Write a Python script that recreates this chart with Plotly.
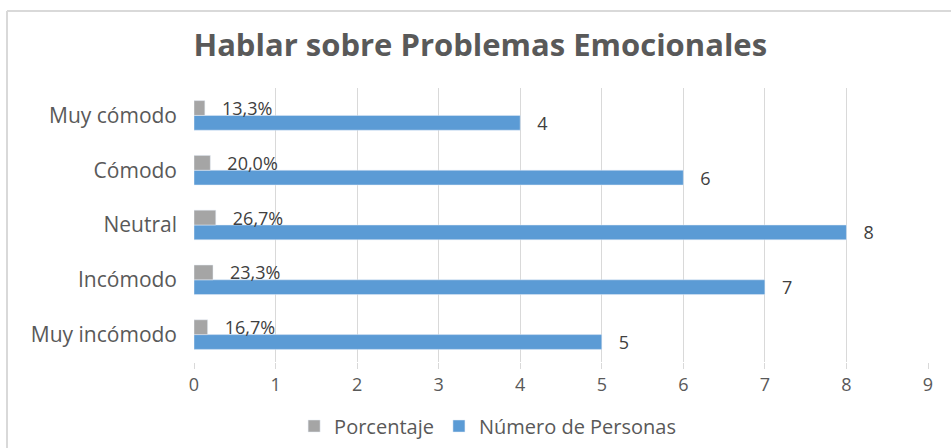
import plotly.graph_objects as go

categories = ["Muy incómodo", "Incómodo", "Neutral", "Cómodo", "Muy cómodo"]
personas = [5, 7, 8, 6, 4]
porcentaje = [0.167, 0.233, 0.267, 0.200, 0.133]
porcentaje_labels = ["16,7%", "23,3%", "26,7%", "20,0%", "13,3%"]
x_ticks = [0, 1, 2, 3, 4, 5, 6, 7, 8, 9]

W, H = 951, 448
ml, mr, mt, mb = 194, 23, 88, 86
pad = "\u00a0\u00a0\u00a0"

fig = go.Figure()
fig.add_trace(go.Bar(
    y=categories, x=personas, orientation="h", name="Número de Personas",
    marker_color="#5b9bd5", text=[pad + str(v) for v in personas],
    textposition="outside", cliponaxis=False, constraintext="none",
    textfont=dict(color="#404040", size=18), legendrank=2,
))
fig.add_trace(go.Bar(
    y=categories, x=porcentaje, orientation="h", name="Porcentaje",
    marker_color="#a5a5a5", text=[pad + t for t in porcentaje_labels],
    textposition="outside", cliponaxis=False, constraintext="none",
    textfont=dict(color="#404040", size=18), legendrank=1,
))

pw = W - ml - mr
ph = H - mt - mb
fig.update_layout(
    width=W, height=H,
    margin=dict(l=ml, r=mr, t=mt, b=mb, autoexpand=False),
    paper_bgcolor="white", plot_bgcolor="white",
    barmode="group", bargap=0.46, bargroupgap=0,
    font=dict(family="Open Sans", color="#595959", size=16),
    title=dict(text="<b>Hablar sobre Problemas Emocionales</b>", x=0.505, xanchor="center",
               y=1 - 45 / H, yanchor="middle", font=dict(size=31, color="#595959")),
    xaxis=dict(range=[0, 9], tickvals=x_ticks, showgrid=True, gridcolor="#d9d9d9",
               gridwidth=1, zeroline=False, showline=False, ticks="outside", ticklen=6,
               tickcolor="#d9d9d9", tickfont=dict(size=18, color="#595959"),
               automargin=False),
    yaxis=dict(categoryorder="array", categoryarray=categories, showgrid=False,
               ticks="", tickfont=dict(size=21, color="#595959"), ticklabelstandoff=16,
               showline=False, automargin=False),
    legend=dict(orientation="h", x=0.4, xanchor="center", y=-(426 - mt - ph) / ph,
                yanchor="middle", font=dict(size=20, color="#595959"),
                traceorder="normal", itemwidth=30),
    showlegend=True,
)
# chart area border (top and left edges visible)
fig.add_shape(type="line", xref="paper", yref="paper",
              x0=(7 - ml) / pw, x1=(W - ml) / pw,
              y0=(H - 11 - mb) / ph, y1=(H - 11 - mb) / ph,
              line=dict(color="#d9d9d9", width=2), layer="below")
fig.add_shape(type="line", xref="paper", yref="paper",
              x0=(7 - ml) / pw, x1=(7 - ml) / pw,
              y0=(H - 11 - mb) / ph, y1=(0 - mb) / ph,
              line=dict(color="#d9d9d9", width=2), layer="below")

fig.write_html("out.html", config={"displayModeBar": False},
               post_script="document.body.style.margin='0';")
